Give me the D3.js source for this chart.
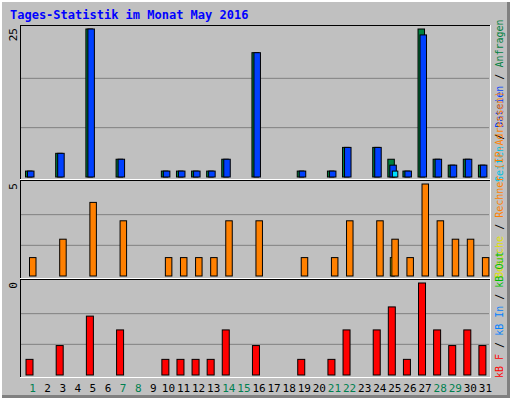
<!DOCTYPE html>
<html><head><meta charset="utf-8">
<script src="https://cdn.jsdelivr.net/npm/d3@7"></script>
<style>body{margin:0;background:#fff}</style>
</head><body><svg id="c" width="512" height="400"></svg>
<script>
const days = d3.range(1, 32)
const weekend = [1, 7, 8, 14, 15, 21, 22, 28, 29]
const hits  = [1,0,4,0,25,0,3,0,0,1,1,1,1,3,0,21,0,0,1,0,1,5,0,5,3,1,25,3,2,3,2]
const files = [1,0,4,0,25,0,3,0,0,1,1,1,1,3,0,21,0,0,1,0,1,5,0,5,2,1,24,3,2,3,2]
const pages = [0,0,0,0,0,0,0,0,0,0,0,0,0,0,0,0,0,0,0,0,0,0,0,0,1,0,0,0,0,0,0]
const visits= [0,0,0,0,0,0,0,0,0,0,0,0,0,0,0,0,0,0,0,0,0,0,0,0,1,0,0,0,0,0,0]
const sites = [1,0,2,0,4,0,3,0,0,1,1,1,1,3,0,3,0,0,1,0,1,3,0,3,2,1,5,3,2,2,1]
const kbytes= [17,0,32,0,64,0,49,0,0,17,17,17,17,49,0,32,0,0,17,0,17,49,0,49,74,17,100,49,32,49,32]

const svg = d3.select('#c')
svg.append('rect').attr('width',512).attr('height',400).attr('fill','#fff')
svg.append('rect').attr('x',2).attr('y',2).attr('width',508).attr('height',396).attr('fill','#808080')
svg.append('rect').attr('x',2).attr('y',2).attr('width',505).attr('height',393).attr('fill','#c0c0c0')

svg.append('text').attr('x',10).attr('y',19).text('Tages-Statistik im Monat May 2016')
    .style('font-family','DejaVu Sans Mono').style('font-weight','bold').style('font-size','12px').attr('fill','#0000ff')

const xScale = d3.scaleBand().domain(days).range([22, 490]).paddingInner(0)

function panel(y0, y1, max, label, series){
    const g = svg.append('g')
    const y = d3.scaleLinear().domain([0, max]).range([y1 - 2, y0 + 4])
    ;[1/3, 2/3].forEach(f => {
        g.append('line').attr('x1',21).attr('x2',489)
            .attr('y1', y(max*f)).attr('y2', y(max*f)).attr('stroke','#808080')
    })
    series.forEach(s => {
        g.selectAll(null).data(s.values.map((v,i)=>({v, d:days[i]})).filter(o=>o.v>0))
            .join('rect')
            .attr('x', o => xScale(o.d) + s.dx)
            .attr('y', o => y(o.v))
            .attr('width', s.w)
            .attr('height', o => y(0) - y(o.v))
            .attr('fill', s.color).attr('stroke','#000')
    })
    g.append('line').attr('x1',20).attr('x2',491).attr('y1',y0+0.5).attr('y2',y0+0.5).attr('stroke','#000')
    g.append('line').attr('x1',20.5).attr('x2',20.5).attr('y1',y0).attr('y2',y1).attr('stroke','#000')
    g.append('line').attr('x1',20).attr('x2',491).attr('y1',y1+0.5).attr('y2',y1+0.5).attr('stroke','#fff')
    g.append('line').attr('x1',490.5).attr('x2',490.5).attr('y1',y0).attr('y2',y1).attr('stroke','#fff')
    g.append('text').attr('transform',`translate(17,${y0+3}) rotate(-90)`).text(label)
        .attr('text-anchor','end')
        .style('font-family','DejaVu Sans Mono').style('font-size','11px')
}

panel(25, 179, 25, '25', [
    {values: hits,  color:'#008040', dx:3.5, w:6.5},
    {values: files, color:'#0040ff', dx:5.5, w:6.5},
    {values: pages, color:'#00e0ff', dx:8, w:5.5}
])
panel(180, 278, 5, '5', [
    {values: visits, color:'#ffff00', dx:6, w:4},
    {values: sites,  color:'#ff8000', dx:7.5, w:6.5}
])
panel(279, 377, 100, '0', [
    {values: kbytes, color:'#ff0000', dx:4, w:7}
])

svg.append('g').selectAll('text').data(days).join('text')
    .attr('x', d => xScale(d) + xScale.bandwidth()/2 + 3)
    .attr('y', 392)
    .attr('text-anchor','middle')
    .attr('fill', d => weekend.includes(d) ? '#008050' : '#000')
    .style('font-family','DejaVu Sans Mono').style('font-size','11px')
    .text(d => d)

function legend(yBottom, parts){
    const t = svg.append('text').attr('transform',`translate(503,${yBottom}) rotate(-90)`)
        .style('font-family','DejaVu Sans Mono').style('font-size','10px')
    parts.forEach(p => t.append('tspan').attr('fill', p[1]).text(p[0]))
}
legend(182, [['Seiten','#00c0e0'],[' / ','#000'],['Dateien','#0040ff'],[' / ','#000'],['Anfragen','#008040']])
legend(278, [['Besuche','#e0e000'],[' / ','#000'],['Rechner (IP-Adressen)','#ff8000']])
legend(378, [['kB F','#ff0000'],[' / ','#000'],['kB In','#0080ff'],[' / ','#000'],['kB Out','#00c000']])
</script></body></html>
